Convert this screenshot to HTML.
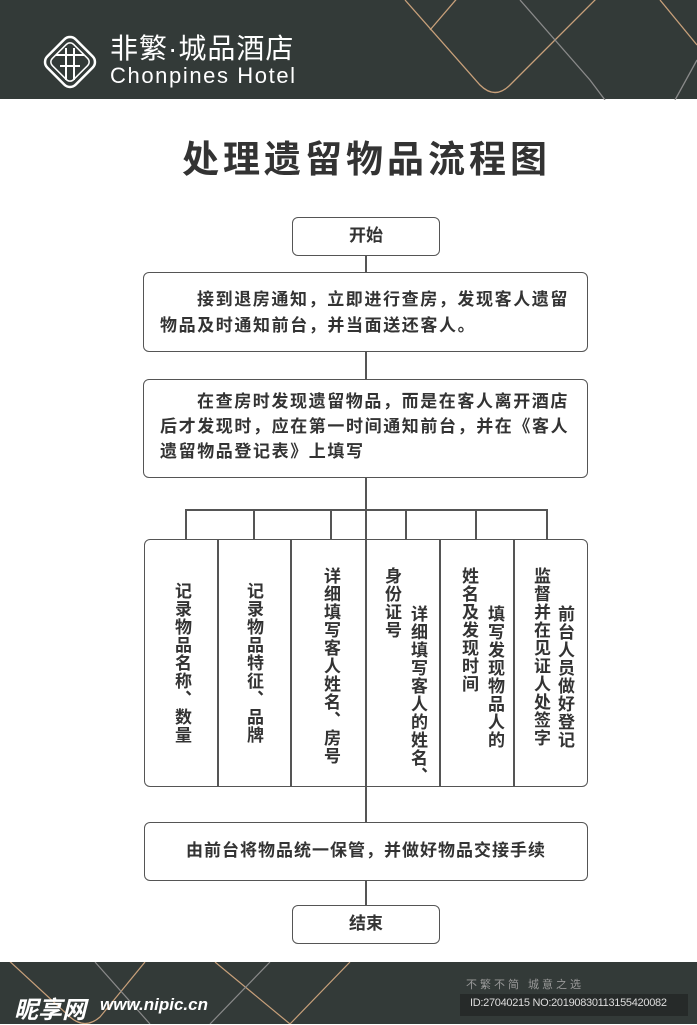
<!DOCTYPE html>
<html><head><meta charset="utf-8"><style>
body{margin:0;width:697px;height:1024px;position:relative;background:#fff;font-family:"Liberation Sans","Noto Sans CJK SC",sans-serif;overflow:hidden;color:#333}
.a{position:absolute}
.box{position:absolute;border:1.5px solid #555;border-radius:6px;box-sizing:border-box;background:#fff}
.l{position:absolute;background:#555}
.t{position:absolute;font-size:17px;font-weight:bold;color:#333;line-height:26px;letter-spacing:1.6px}
.v{position:absolute;writing-mode:vertical-rl;font-size:17px;font-weight:bold;color:#333;letter-spacing:1px;line-height:20px}
</style></head><body>
<div class="a" style="left:0;top:0;width:697px;height:99px;background:#333a38"></div>
<svg class="a" style="left:0;top:0" width="697" height="100">
<g fill="none" stroke-width="1.3">
<path d="M405,0 L480,85 Q495,100 510,85 L605,-10" stroke="#c8a07a"/>
<path d="M430,30 L460,-5" stroke="#c8a07a"/>
<path d="M520,0 L590,80 Q605,100 605,100" stroke="#8a8a8a"/>
<path d="M660,0 L697,45" stroke="#c8a07a"/>
<path d="M697,60 L675,100" stroke="#8a8a8a"/>
</g>
<g transform="translate(70,62) rotate(45)" fill="none" stroke="#fff" stroke-width="2.5">
<rect x="-20" y="-20" width="40" height="40" rx="8"/>
<rect x="-15" y="-15" width="30" height="30" rx="5" stroke-width="1.5"/>
</g>
<path d="M56,55 H84 M60,66 H80 M66,48 V80 M74,48 V80" stroke="#fff" stroke-width="2" fill="none"/>
</svg>
<div class="a" style="left:110px;top:33px;font-size:28px;color:#fff;line-height:32px;letter-spacing:1px">非繁·城品酒店</div>
<div class="a" style="left:110px;top:64px;font-size:22px;color:#fff;line-height:24px;letter-spacing:1.6px">Chonpines Hotel</div>

<div class="a" style="left:0;width:733px;top:138px;text-align:center;font-size:37px;font-weight:bold;color:#333;letter-spacing:4px;line-height:44px">处理遗留物品流程图</div>

<div class="l" style="left:365px;top:256px;width:1.5px;height:570px"></div>
<div class="l" style="left:365px;top:880px;width:1.5px;height:26px"></div>
<div class="l" style="left:185px;top:509px;width:362px;height:1.5px"></div>
<div class="l" style="left:185px;top:509px;width:1.5px;height:31px"></div>
<div class="l" style="left:253px;top:509px;width:1.5px;height:31px"></div>
<div class="l" style="left:330px;top:509px;width:1.5px;height:31px"></div>
<div class="l" style="left:405px;top:509px;width:1.5px;height:31px"></div>
<div class="l" style="left:475px;top:509px;width:1.5px;height:31px"></div>
<div class="l" style="left:546px;top:509px;width:1.5px;height:31px"></div>

<div class="box" style="left:292px;top:217px;width:148px;height:39px;text-align:center;line-height:36px;font-size:17px;font-weight:bold">开始</div>
<div class="box" style="left:143px;top:272px;width:445px;height:80px"></div>
<div class="t" style="left:160px;top:287px;width:414px;text-indent:37px">接到退房通知，立即进行查房，发现客人遗留物品及时通知前台，并当面送还客人。</div>
<div class="box" style="left:143px;top:379px;width:445px;height:99px"></div>
<div class="t" style="left:160px;top:389px;width:414px;text-indent:37px;line-height:25px">在查房时发现遗留物品，而是在客人离开酒店后才发现时，应在第一时间通知前台，并在《客人遗留物品登记表》上填写</div>

<div class="box" style="left:144px;top:539px;width:444px;height:248px"></div>
<div class="l" style="left:217px;top:540px;width:1.5px;height:246px"></div>
<div class="l" style="left:290px;top:540px;width:1.5px;height:246px"></div>
<div class="l" style="left:365px;top:540px;width:1.5px;height:246px"></div>
<div class="l" style="left:439px;top:540px;width:1.5px;height:246px"></div>
<div class="l" style="left:513px;top:540px;width:1.5px;height:246px"></div>
<div class="v" style="left:171px;top:582px">记录物品名称、数量</div>
<div class="v" style="left:243px;top:582px">记录物品特征、品牌</div>
<div class="v" style="left:320px;top:567px">详细填写客人姓名、房号</div>
<div class="v" style="left:381px;top:567px">身份证号</div>
<div class="v" style="left:407px;top:605px">详细填写客人的姓名、</div>
<div class="v" style="left:458px;top:567px">姓名及发现时间</div>
<div class="v" style="left:484px;top:605px">填写发现物品人的</div>
<div class="v" style="left:530px;top:567px">监督并在见证人处签字</div>
<div class="v" style="left:554px;top:605px">前台人员做好登记</div>

<div class="box" style="left:144px;top:822px;width:444px;height:59px;text-align:center;line-height:56px;font-size:17px;font-weight:bold;letter-spacing:1px">由前台将物品统一保管，并做好物品交接手续</div>
<div class="box" style="left:292px;top:905px;width:148px;height:39px;text-align:center;line-height:36px;font-size:17px;font-weight:bold">结束</div>

<div class="a" style="left:0;top:962px;width:697px;height:62px;background:#333a38"></div>
<svg class="a" style="left:0;top:962px" width="697" height="62">
<g fill="none" stroke-width="1.2">
<path d="M5,-5 L70,55 Q85,68 100,55 L145,0" stroke="#c8a07a"/>
<path d="M95,0 L150,62" stroke="#8a8a8a"/>
<path d="M215,0 L290,62" stroke="#c8a07a"/>
<path d="M270,0 L210,62" stroke="#8a8a8a"/>
<path d="M350,0 L290,62" stroke="#c8a07a"/>
</g>
</svg>
<div class="a" style="left:466px;top:976px;font-size:11px;color:#999;letter-spacing:3px">不繁不简 城意之选</div>
<div class="a" style="left:460px;top:994px;width:228px;height:22px;background:#262a29"></div>
<div class="a" style="left:470px;top:997px;font-size:11px;color:#ddd;letter-spacing:-0.3px">ID:27040215 NO:20190830113155420082</div>
<div class="a" style="left:14px;top:990px;font-size:24px;font-weight:bold;font-style:italic;color:#fff">昵享网</div>
<div class="a" style="left:100px;top:995px;font-size:17px;font-weight:bold;font-style:italic;color:#fff">www.nipic.cn</div>
</body></html>
